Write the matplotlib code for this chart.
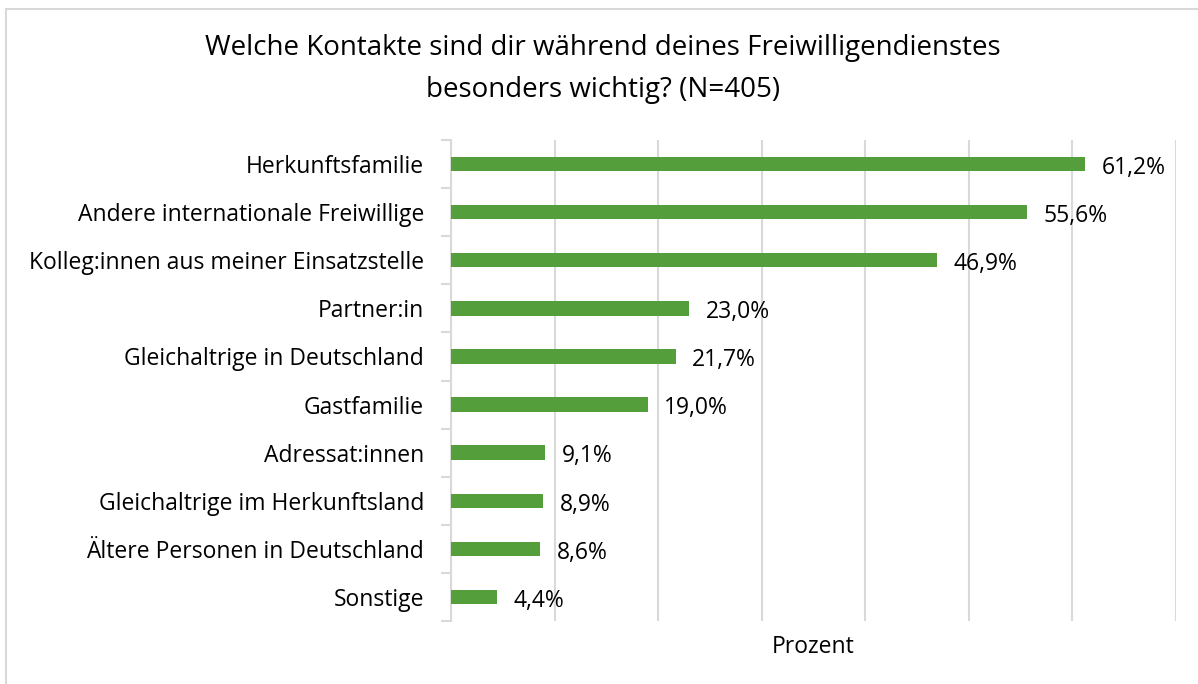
import matplotlib.pyplot as plt
from matplotlib.patches import Rectangle

plt.rcParams['font.family'] = ['Open Sans', 'DejaVu Sans']

categories = ['Herkunftsfamilie', 'Andere internationale Freiwillige',
              'Kolleg:innen aus meiner Einsatzstelle', 'Partner:in',
              'Gleichaltrige in Deutschland', 'Gastfamilie', 'Adressat:innen',
              'Gleichaltrige im Herkunftsland', 'Ältere Personen in Deutschland',
              'Sonstige']
values = [61.2, 55.6, 46.9, 23.0, 21.7, 19.0, 9.1, 8.9, 8.6, 4.4]
labels = ['61,2%', '55,6%', '46,9%', '23,0%', '21,7%', '19,0%', '9,1%', '8,9%', '8,6%', '4,4%']

fig = plt.figure(figsize=(11.98, 6.84), dpi=100)
ax = fig.add_axes([451/1198, 1 - 621/684, (1176-451)/1198, (621-140)/684])

# chart border (only top/left visible in the reference)
fig.patches.append(Rectangle((6/1198, -0.05), 1.2, 1 - 9/684 + 0.05, transform=fig.transFigure,
                             fill=False, edgecolor='#d9d9d9', linewidth=1.5))

y = list(range(len(categories)))
ax.barh(y, values, height=0.3, color='#559E3C', zorder=3)
for yi, v, lab in zip(y, values, labels):
    ax.text(v + 1.6, yi + 0.08, lab, va='center', ha='left', fontsize=16.5, color='#000000')

ax.set_xlim(0, 70)
ax.set_ylim(len(categories) - 0.5, -0.5)
ax.set_xticks(range(0, 71, 10))
ax.tick_params(axis='x', length=0, labelbottom=False)
ax.grid(axis='x', color='#d9d9d9', linewidth=1.5, zorder=0)
ax.set_yticks(y)
ax.set_yticklabels(categories, fontsize=16.5)
ax.set_yticks([i - 0.5 for i in range(len(categories) + 1)], minor=True)
ax.tick_params(axis='y', which='major', length=0, pad=19.5)
ax.tick_params(axis='y', which='minor', length=7, color='#d9d9d9', width=1.5)
for s in ['top', 'right', 'bottom']:
    ax.spines[s].set_visible(False)
ax.spines['left'].set_color('#d9d9d9')
ax.spines['left'].set_linewidth(1.5)

ax.set_xlabel('Prozent', fontsize=16.5, labelpad=10)
fig.text(0.503, 1 - 48/684, 'Welche Kontakte sind dir während deines Freiwilligendienstes',
         ha='center', va='center', fontsize=20)
fig.text(0.503, 1 - 90/684, 'besonders wichtig? (N=405)', ha='center', va='center', fontsize=20)

fig.savefig('out.png', dpi=100)
